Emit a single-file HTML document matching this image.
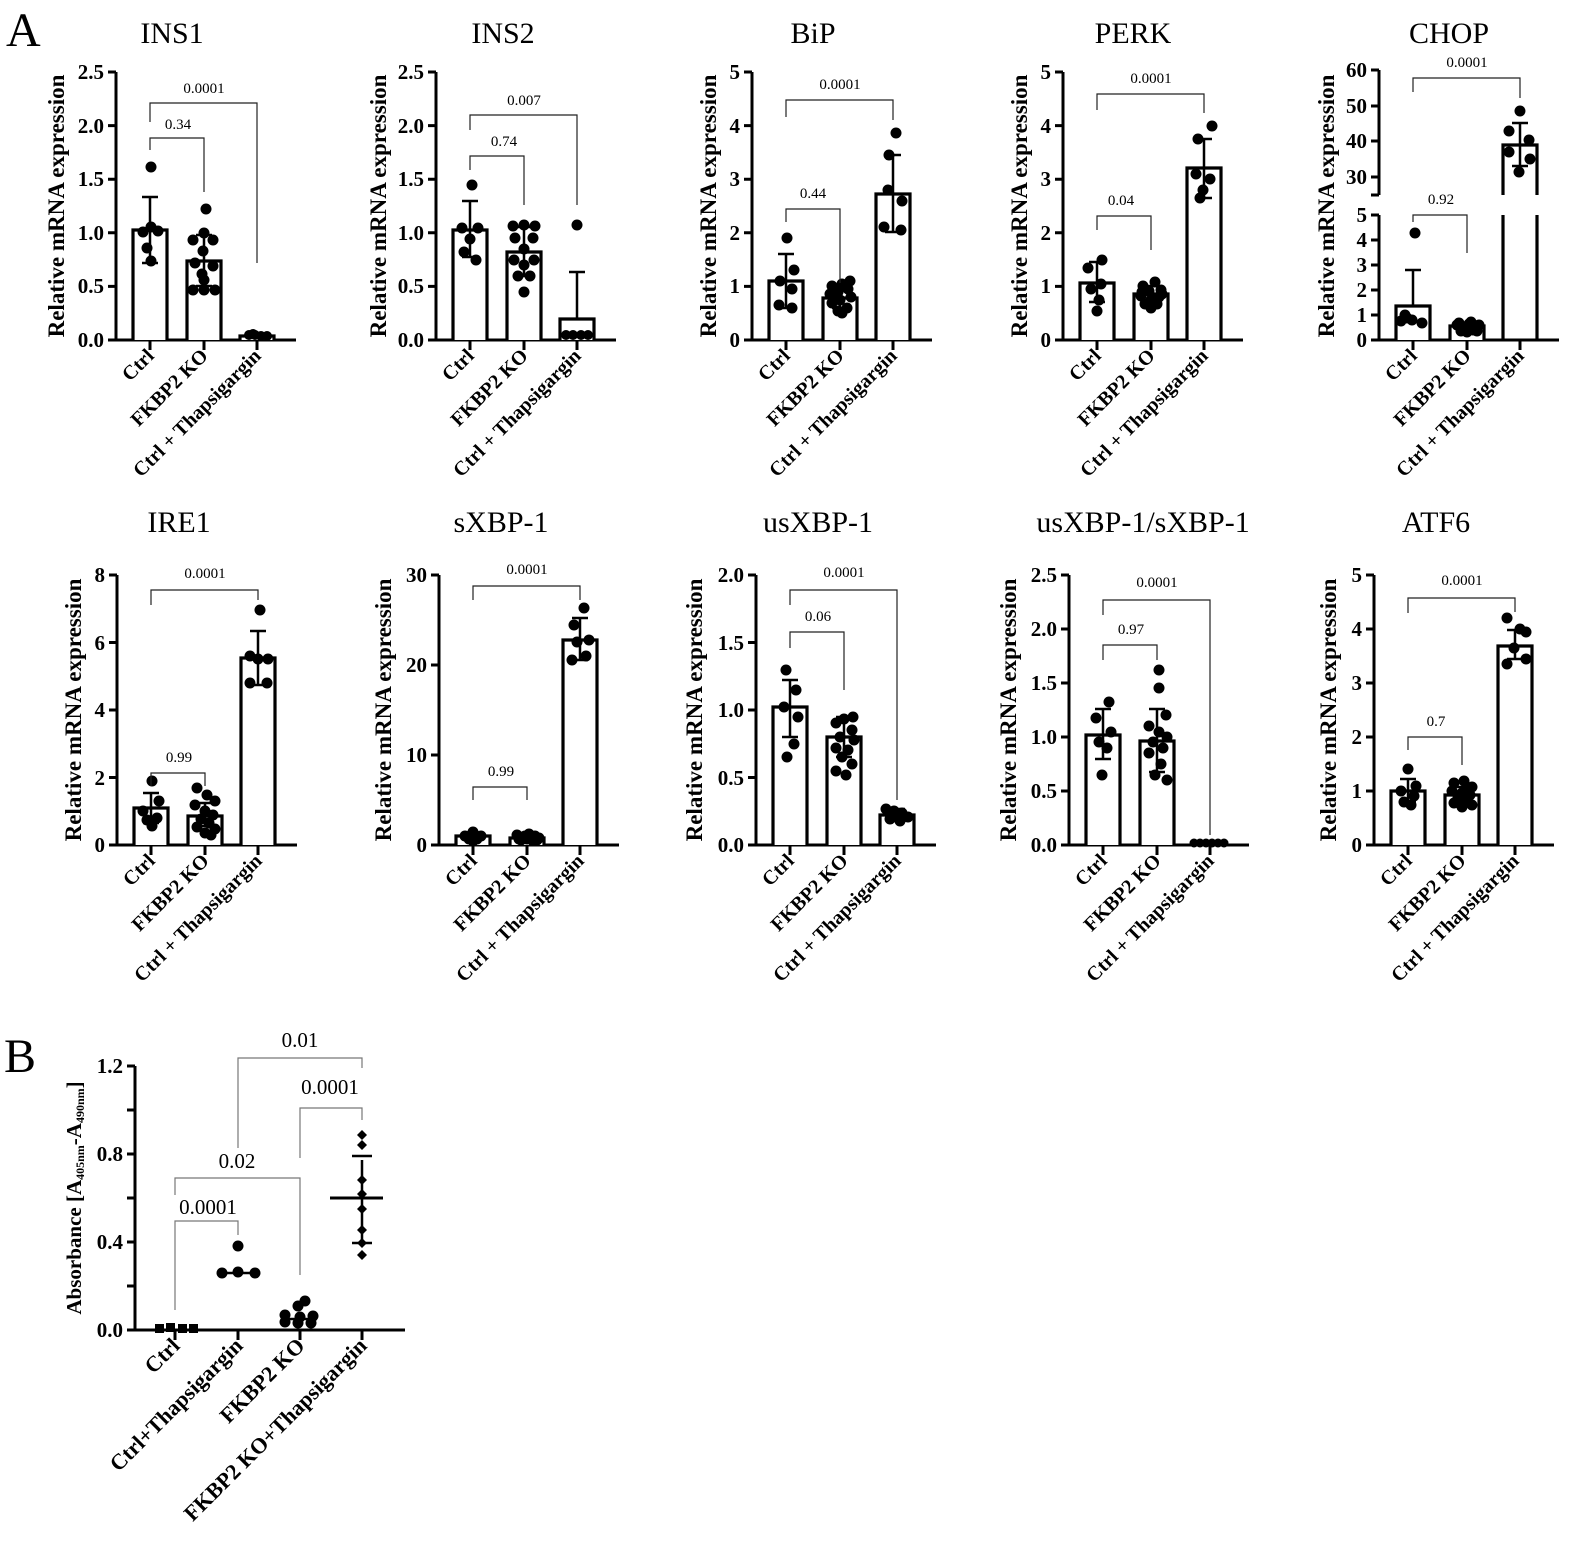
<!DOCTYPE html>
<html><head><meta charset="utf-8"><style>
body{margin:0;background:#fff}
svg{display:block;font-family:"Liberation Serif",serif}
.ax{stroke:#000;stroke-width:3;fill:none}
.bar{stroke:#000;stroke-width:3.2;fill:#fff}
.er{stroke:#000;stroke-width:2.5;fill:none}
.br{stroke:#222;stroke-width:1.2;fill:none}
.bg{stroke:#777;stroke-width:1.2;fill:none}
.tk{font-size:21px;font-weight:bold;text-anchor:end}
.xl{font-size:20px;font-weight:bold;text-anchor:end}
.yl{font-size:23px;font-weight:bold;text-anchor:middle}
.ti{font-size:30px;text-anchor:middle}
.p{font-size:15px;text-anchor:middle}
circle{fill:#000}
</style></head><body>
<svg width="1577" height="1553" viewBox="0 0 1577 1553" xmlns="http://www.w3.org/2000/svg">
<text x="6" y="46" font-size="48">A</text>
<text x="4" y="1072" font-size="48">B</text>

<!-- INS1 -->
<g transform="translate(116,340)">
<text class="ti" x="56" y="-297">INS1</text>
<text class="yl" transform="translate(-52,-134) rotate(-90)">Relative mRNA expression</text>
<path class="ax" d="M0,1.5V-268M-1.5,0H180M-8,0H0M-8,-53.6H0M-8,-107.2H0M-8,-160.8H0M-8,-214.4H0M-8,-268H0M34,0V10M88,0V10M141,0V10"/>
<text class="tk" x="-12" y="7">0.0</text><text class="tk" x="-12" y="-47">0.5</text><text class="tk" x="-12" y="-100">1.0</text><text class="tk" x="-12" y="-154">1.5</text><text class="tk" x="-12" y="-207">2.0</text><text class="tk" x="-12" y="-261">2.5</text>
<path class="bar" d="M17,0V-110H51V0M71,0V-79H105V0M124,0V-4H158V0"/>
<path class="er" d="M34,-77V-143M26,-143H42M26,-77H42M88,-54V-105M80,-105H96M80,-54H96"/>
<circle cx="35" cy="-173" r="5.5"/><circle cx="27" cy="-108" r="5.5"/><circle cx="42" cy="-109" r="5.5"/><circle cx="35" cy="-113" r="5.5"/><circle cx="31" cy="-92" r="5.5"/><circle cx="35" cy="-79" r="5.5"/>
<circle cx="90" cy="-131" r="5.5"/><circle cx="88" cy="-107" r="5.5"/><circle cx="77" cy="-100" r="5.5"/><circle cx="97" cy="-100" r="5.5"/><circle cx="87" cy="-89" r="5.5"/><circle cx="79" cy="-77" r="5.5"/><circle cx="97" cy="-74" r="5.5"/><circle cx="88" cy="-60" r="5.5"/><circle cx="77" cy="-50" r="5.5"/><circle cx="88" cy="-50" r="5.5"/><circle cx="99" cy="-50" r="5.5"/><circle cx="86" cy="-66" r="5.5"/>
<circle cx="133" cy="-5" r="5"/><circle cx="139" cy="-5" r="5"/><circle cx="145" cy="-4" r="5"/><circle cx="151" cy="-4" r="5"/><circle cx="137" cy="-6" r="5"/>
<path class="br" d="M34,-190V-202H88V-148M34,-218V-237H141V-77"/>
<text class="p" x="62" y="-211">0.34</text><text class="p" x="88" y="-247">0.0001</text>
<text class="xl" transform="translate(39,17) rotate(-45)">Ctrl</text><text class="xl" transform="translate(93,17) rotate(-45)">FKBP2 KO</text><text class="xl" transform="translate(146,17) rotate(-45)">Ctrl + Thapsigargin</text>
</g>

<!-- INS2 -->
<g transform="translate(436,340)">
<text class="ti" x="67" y="-297">INS2</text>
<text class="yl" transform="translate(-50,-134) rotate(-90)">Relative mRNA expression</text>
<path class="ax" d="M0,1.5V-268M-1.5,0H180M-8,0H0M-8,-53.6H0M-8,-107.2H0M-8,-160.8H0M-8,-214.4H0M-8,-268H0M34,0V10M88,0V10M141,0V10"/>
<text class="tk" x="-12" y="7">0.0</text><text class="tk" x="-12" y="-47">0.5</text><text class="tk" x="-12" y="-100">1.0</text><text class="tk" x="-12" y="-154">1.5</text><text class="tk" x="-12" y="-207">2.0</text><text class="tk" x="-12" y="-261">2.5</text>
<path class="bar" d="M17,0V-110H51V0M71,0V-88H105V0M124,0V-21H158V0"/>
<path class="er" d="M34,-83V-139M26,-139H42M26,-83H42M88,-64V-113M80,-113H96M80,-64H96M141,-21V-68M133,-68H149"/>
<circle cx="36" cy="-155" r="5.5"/><circle cx="26" cy="-112" r="5.5"/><circle cx="42" cy="-112" r="5.5"/><circle cx="34" cy="-101" r="5.5"/><circle cx="28" cy="-88" r="5.5"/><circle cx="40" cy="-80" r="5.5"/>
<circle cx="77" cy="-114" r="5.5"/><circle cx="88" cy="-115" r="5.5"/><circle cx="99" cy="-114" r="5.5"/><circle cx="79" cy="-102" r="5.5"/><circle cx="97" cy="-102" r="5.5"/><circle cx="88" cy="-91" r="5.5"/><circle cx="78" cy="-80" r="5.5"/><circle cx="98" cy="-80" r="5.5"/><circle cx="82" cy="-64" r="5.5"/><circle cx="94" cy="-64" r="5.5"/><circle cx="88" cy="-48" r="5.5"/><circle cx="88" cy="-75" r="5.5"/>
<circle cx="141" cy="-115" r="5.5"/><circle cx="130" cy="-5" r="5"/><circle cx="137" cy="-5" r="5"/><circle cx="145" cy="-5" r="5"/><circle cx="152" cy="-5" r="5"/>
<path class="br" d="M34,-170V-184H88V-135M34,-210V-225H141V-135"/>
<text class="p" x="68" y="-194">0.74</text><text class="p" x="88" y="-235">0.007</text>
<text class="xl" transform="translate(39,17) rotate(-45)">Ctrl</text><text class="xl" transform="translate(93,17) rotate(-45)">FKBP2 KO</text><text class="xl" transform="translate(146,17) rotate(-45)">Ctrl + Thapsigargin</text>
</g>

<!-- BiP -->
<g transform="translate(752,340)">
<text class="ti" x="61" y="-297">BiP</text>
<text class="yl" transform="translate(-36,-134) rotate(-90)">Relative mRNA expression</text>
<path class="ax" d="M0,1.5V-268M-1.5,0H180M-8,0H0M-8,-53.6H0M-8,-107.2H0M-8,-160.8H0M-8,-214.4H0M-8,-268H0M34,0V10M88,0V10M141,0V10"/>
<text class="tk" x="-12" y="7">0</text><text class="tk" x="-12" y="-47">1</text><text class="tk" x="-12" y="-100">2</text><text class="tk" x="-12" y="-154">3</text><text class="tk" x="-12" y="-207">4</text><text class="tk" x="-12" y="-261">5</text>
<path class="bar" d="M17,0V-59H51V0M71,0V-42H105V0M124,0V-146H158V0"/>
<path class="er" d="M34,-32V-86M26,-86H42M26,-32H42M88,-32V-51M80,-51H96M80,-32H96M141,-108V-185M133,-185H149M133,-108H149"/>
<circle cx="35" cy="-102" r="5.5"/><circle cx="42" cy="-70" r="5.5"/><circle cx="28" cy="-59" r="5.5"/><circle cx="40" cy="-51" r="5.5"/><circle cx="27" cy="-35" r="5.5"/><circle cx="40" cy="-32" r="5.5"/>
<circle cx="98" cy="-59" r="5.5"/><circle cx="90" cy="-56" r="5.5"/><circle cx="80" cy="-54" r="5.5"/><circle cx="96" cy="-51" r="5.5"/><circle cx="86" cy="-48" r="5.5"/><circle cx="78" cy="-46" r="5.5"/><circle cx="99" cy="-43" r="5.5"/><circle cx="88" cy="-40" r="5.5"/><circle cx="80" cy="-37" r="5.5"/><circle cx="95" cy="-32" r="5.5"/><circle cx="86" cy="-29" r="5.5"/><circle cx="90" cy="-27" r="5.5"/>
<circle cx="144" cy="-207" r="5.5"/><circle cx="137" cy="-185" r="5.5"/><circle cx="136" cy="-150" r="5.5"/><circle cx="150" cy="-139" r="5.5"/><circle cx="132" cy="-113" r="5.5"/><circle cx="149" cy="-110" r="5.5"/>
<path class="br" d="M34,-118V-131H88V-57M34,-223V-240H141V-220"/>
<text class="p" x="61" y="-142">0.44</text><text class="p" x="88" y="-251">0.0001</text>
<text class="xl" transform="translate(39,17) rotate(-45)">Ctrl</text><text class="xl" transform="translate(93,17) rotate(-45)">FKBP2 KO</text><text class="xl" transform="translate(146,17) rotate(-45)">Ctrl + Thapsigargin</text>
</g>

<!-- PERK -->
<g transform="translate(1063,340)">
<text class="ti" x="70" y="-297">PERK</text>
<text class="yl" transform="translate(-36,-134) rotate(-90)">Relative mRNA expression</text>
<path class="ax" d="M0,1.5V-268M-1.5,0H180M-8,0H0M-8,-53.6H0M-8,-107.2H0M-8,-160.8H0M-8,-214.4H0M-8,-268H0M34,0V10M88,0V10M141,0V10"/>
<text class="tk" x="-12" y="7">0</text><text class="tk" x="-12" y="-47">1</text><text class="tk" x="-12" y="-100">2</text><text class="tk" x="-12" y="-154">3</text><text class="tk" x="-12" y="-207">4</text><text class="tk" x="-12" y="-261">5</text>
<path class="bar" d="M17,0V-57H51V0M71,0V-46H105V0M124,0V-172H158V0"/>
<path class="er" d="M34,-38V-78M26,-78H42M26,-38H42M88,-38V-54M80,-54H96M80,-38H96M141,-142V-201M133,-201H149M133,-142H149"/>
<circle cx="39" cy="-80" r="5.5"/><circle cx="25" cy="-72" r="5.5"/><circle cx="38" cy="-56" r="5.5"/><circle cx="28" cy="-51" r="5.5"/><circle cx="36" cy="-40" r="5.5"/><circle cx="34" cy="-29" r="5.5"/>
<circle cx="80" cy="-54" r="5.5"/><circle cx="92" cy="-58" r="5.5"/><circle cx="98" cy="-50" r="5.5"/><circle cx="86" cy="-49" r="5.5"/><circle cx="78" cy="-44" r="5.5"/><circle cx="96" cy="-43" r="5.5"/><circle cx="88" cy="-40" r="5.5"/><circle cx="82" cy="-36" r="5.5"/><circle cx="94" cy="-36" r="5.5"/><circle cx="88" cy="-32" r="5.5"/><circle cx="79" cy="-48" r="5.5"/><circle cx="99" cy="-46" r="5.5"/>
<circle cx="149" cy="-214" r="5.5"/><circle cx="135" cy="-201" r="5.5"/><circle cx="133" cy="-166" r="5.5"/><circle cx="147" cy="-161" r="5.5"/><circle cx="140" cy="-150" r="5.5"/><circle cx="137" cy="-142" r="5.5"/>
<path class="br" d="M34,-110V-124H88V-90M34,-230V-246H141V-227"/>
<text class="p" x="58" y="-135">0.04</text><text class="p" x="88" y="-257">0.0001</text>
<text class="xl" transform="translate(39,17) rotate(-45)">Ctrl</text><text class="xl" transform="translate(93,17) rotate(-45)">FKBP2 KO</text><text class="xl" transform="translate(146,17) rotate(-45)">Ctrl + Thapsigargin</text>
</g>

<!-- CHOP -->
<g transform="translate(1379,340)">
<text class="ti" x="70" y="-297">CHOP</text>
<text class="yl" transform="translate(-45,-134) rotate(-90)">Relative mRNA expression</text>
<path class="ax" d="M0,1.5V-125M0,-145V-270M-1.5,0H180M-8,0H0M-8,-25H0M-8,-50H0M-8,-75H0M-8,-100H0M-8,-125H0M-8,-145H0M-8,-163H0M-8,-199H0M-8,-234H0M-8,-270H0M34,0V10M88,0V10M141,0V10"/>
<text class="tk" x="-12" y="7">0</text><text class="tk" x="-12" y="-18">1</text><text class="tk" x="-12" y="-43">2</text><text class="tk" x="-12" y="-68">3</text><text class="tk" x="-12" y="-93">4</text><text class="tk" x="-12" y="-118">5</text><text class="tk" x="-12" y="-156">30</text><text class="tk" x="-12" y="-192">40</text><text class="tk" x="-12" y="-227">50</text><text class="tk" x="-12" y="-263">60</text>
<path class="bar" d="M17,0V-34H51V0M71,0V-14H105V0M124,0V-125M158,0V-125M124,-145V-195H158V-145"/>
<path class="er" d="M34,-34V-70M26,-70H42M141,-174V-217M133,-217H149M133,-174H149"/>
<circle cx="36" cy="-107" r="5.5"/><circle cx="26" cy="-25" r="5.5"/><circle cx="22" cy="-19" r="5.5"/><circle cx="33" cy="-20" r="5.5"/><circle cx="43" cy="-17" r="5.5"/><circle cx="28" cy="-22" r="5.5"/>
<circle cx="78" cy="-15" r="5.5"/><circle cx="84" cy="-12" r="5.5"/><circle cx="90" cy="-16" r="5.5"/><circle cx="96" cy="-13" r="5.5"/><circle cx="100" cy="-15" r="5.5"/><circle cx="82" cy="-9" r="5.5"/><circle cx="88" cy="-8" r="5.5"/><circle cx="94" cy="-10" r="5.5"/><circle cx="80" cy="-17" r="5.5"/><circle cx="92" cy="-18" r="5.5"/><circle cx="98" cy="-9" r="5.5"/>
<circle cx="141" cy="-229" r="5.5"/><circle cx="130" cy="-209" r="5.5"/><circle cx="150" cy="-200" r="5.5"/><circle cx="130" cy="-188" r="5.5"/><circle cx="151" cy="-181" r="5.5"/><circle cx="140" cy="-168" r="5.5"/>
<path class="br" d="M34,-118V-125H88V-87M34,-248V-262H141V-242"/>
<text class="p" x="62" y="-136">0.92</text><text class="p" x="88" y="-273">0.0001</text>
<text class="xl" transform="translate(39,17) rotate(-45)">Ctrl</text><text class="xl" transform="translate(93,17) rotate(-45)">FKBP2 KO</text><text class="xl" transform="translate(146,17) rotate(-45)">Ctrl + Thapsigargin</text>
</g>

<!-- IRE1 -->
<g transform="translate(117,845)">
<text class="ti" x="62" y="-313">IRE1</text>
<text class="yl" transform="translate(-36,-135) rotate(-90)">Relative mRNA expression</text>
<path class="ax" d="M0,1.5V-270M-1.5,0H180M-8,0H0M-8,-67.5H0M-8,-135H0M-8,-202.5H0M-8,-270H0M34,0V10M88,0V10M141,0V10"/>
<text class="tk" x="-12" y="7">0</text><text class="tk" x="-12" y="-60">2</text><text class="tk" x="-12" y="-128">4</text><text class="tk" x="-12" y="-195">6</text><text class="tk" x="-12" y="-263">8</text>
<path class="bar" d="M17,0V-37H51V0M71,0V-29H105V0M124,0V-187H158V0"/>
<path class="er" d="M34,-22V-52M26,-52H42M26,-22H42M88,-19V-42M80,-42H96M80,-19H96M141,-160V-214M133,-214H149M133,-160H149"/>
<circle cx="35" cy="-64" r="5.5"/><circle cx="42" cy="-44" r="5.5"/><circle cx="26" cy="-34" r="5.5"/><circle cx="40" cy="-27" r="5.5"/><circle cx="30" cy="-25" r="5.5"/><circle cx="35" cy="-19" r="5.5"/>
<circle cx="80" cy="-57" r="5.5"/><circle cx="90" cy="-50" r="5.5"/><circle cx="98" cy="-44" r="5.5"/><circle cx="78" cy="-40" r="5.5"/><circle cx="88" cy="-34" r="5.5"/><circle cx="96" cy="-30" r="5.5"/><circle cx="84" cy="-26" r="5.5"/><circle cx="92" cy="-22" r="5.5"/><circle cx="80" cy="-18" r="5.5"/><circle cx="98" cy="-16" r="5.5"/><circle cx="88" cy="-12" r="5.5"/><circle cx="94" cy="-10" r="5.5"/>
<circle cx="143" cy="-235" r="5.5"/><circle cx="133" cy="-189" r="5.5"/><circle cx="151" cy="-186" r="5.5"/><circle cx="141" cy="-186" r="5.5"/><circle cx="133" cy="-162" r="5.5"/><circle cx="150" cy="-162" r="5.5"/>
<path class="br" d="M34,-59V-72H88V-59M34,-240V-255H141V-245"/>
<text class="p" x="62" y="-83">0.99</text><text class="p" x="88" y="-267">0.0001</text>
<text class="xl" transform="translate(39,17) rotate(-45)">Ctrl</text><text class="xl" transform="translate(93,17) rotate(-45)">FKBP2 KO</text><text class="xl" transform="translate(146,17) rotate(-45)">Ctrl + Thapsigargin</text>
</g>

<!-- sXBP-1 -->
<g transform="translate(439,845)">
<text class="ti" x="62" y="-313">sXBP-1</text>
<text class="yl" transform="translate(-48,-135) rotate(-90)">Relative mRNA expression</text>
<path class="ax" d="M0,1.5V-270M-1.5,0H180M-8,0H0M-8,-90H0M-8,-180H0M-8,-270H0M34,0V10M88,0V10M141,0V10"/>
<text class="tk" x="-12" y="7">0</text><text class="tk" x="-12" y="-83">10</text><text class="tk" x="-12" y="-173">20</text><text class="tk" x="-12" y="-263">30</text>
<path class="bar" d="M17,0V-9H51V0M71,0V-7H105V0M124,0V-205H158V0"/>
<path class="er" d="M34,-5V-12M26,-12H42M141,-185V-227M133,-227H149M133,-185H149"/>
<circle cx="34" cy="-13" r="5.5"/><circle cx="26" cy="-9" r="5.5"/><circle cx="42" cy="-9" r="5.5"/><circle cx="30" cy="-6" r="5.5"/><circle cx="38" cy="-6" r="5.5"/><circle cx="34" cy="-4" r="5.5"/>
<circle cx="78" cy="-10" r="5.5"/><circle cx="84" cy="-8" r="5.5"/><circle cx="90" cy="-11" r="5.5"/><circle cx="96" cy="-9" r="5.5"/><circle cx="100" cy="-7" r="5.5"/><circle cx="82" cy="-5" r="5.5"/><circle cx="88" cy="-6" r="5.5"/><circle cx="94" cy="-4" r="5.5"/><circle cx="80" cy="-6" r="5.5"/><circle cx="98" cy="-5" r="5.5"/><circle cx="86" cy="-9" r="5.5"/><circle cx="92" cy="-7" r="5.5"/>
<circle cx="145" cy="-237" r="5.5"/><circle cx="135" cy="-220" r="5.5"/><circle cx="150" cy="-205" r="5.5"/><circle cx="138" cy="-203" r="5.5"/><circle cx="147" cy="-189" r="5.5"/><circle cx="133" cy="-185" r="5.5"/>
<path class="br" d="M34,-45V-58H88V-45M34,-245V-259H141V-245"/>
<text class="p" x="62" y="-69">0.99</text><text class="p" x="88" y="-271">0.0001</text>
<text class="xl" transform="translate(39,17) rotate(-45)">Ctrl</text><text class="xl" transform="translate(93,17) rotate(-45)">FKBP2 KO</text><text class="xl" transform="translate(146,17) rotate(-45)">Ctrl + Thapsigargin</text>
</g>

<!-- usXBP-1 -->
<g transform="translate(756,845)">
<text class="ti" x="62" y="-313">usXBP-1</text>
<text class="yl" transform="translate(-54,-135) rotate(-90)">Relative mRNA expression</text>
<path class="ax" d="M0,1.5V-270M-1.5,0H180M-8,0H0M-8,-67.5H0M-8,-135H0M-8,-202.5H0M-8,-270H0M34,0V10M88,0V10M141,0V10"/>
<text class="tk" x="-12" y="7">0.0</text><text class="tk" x="-12" y="-60">0.5</text><text class="tk" x="-12" y="-128">1.0</text><text class="tk" x="-12" y="-195">1.5</text><text class="tk" x="-12" y="-263">2.0</text>
<path class="bar" d="M17,0V-138H51V0M71,0V-108H105V0M124,0V-30H158V0"/>
<path class="er" d="M34,-108V-165M26,-165H42M26,-108H42M88,-88V-128M80,-128H96M80,-88H96M141,-24V-36M133,-36H149M133,-24H149"/>
<circle cx="30" cy="-175" r="5.5"/><circle cx="40" cy="-155" r="5.5"/><circle cx="28" cy="-138" r="5.5"/><circle cx="42" cy="-128" r="5.5"/><circle cx="38" cy="-101" r="5.5"/><circle cx="31" cy="-88" r="5.5"/>
<circle cx="97" cy="-128" r="5.5"/><circle cx="88" cy="-126" r="5.5"/><circle cx="80" cy="-122" r="5.5"/><circle cx="96" cy="-115" r="5.5"/><circle cx="84" cy="-108" r="5.5"/><circle cx="98" cy="-105" r="5.5"/><circle cx="80" cy="-97" r="5.5"/><circle cx="92" cy="-95" r="5.5"/><circle cx="86" cy="-88" r="5.5"/><circle cx="96" cy="-81" r="5.5"/><circle cx="80" cy="-74" r="5.5"/><circle cx="90" cy="-70" r="5.5"/>
<circle cx="130" cy="-36" r="5.5"/><circle cx="138" cy="-34" r="5.5"/><circle cx="146" cy="-32" r="5.5"/><circle cx="152" cy="-28" r="5.5"/><circle cx="134" cy="-26" r="5.5"/><circle cx="144" cy="-24" r="5.5"/><circle cx="140" cy="-30" r="5.5"/>
<path class="br" d="M34,-197V-213H88V-155M34,-240V-255H141V-45"/>
<text class="p" x="62" y="-224">0.06</text><text class="p" x="88" y="-268">0.0001</text>
<text class="xl" transform="translate(39,17) rotate(-45)">Ctrl</text><text class="xl" transform="translate(93,17) rotate(-45)">FKBP2 KO</text><text class="xl" transform="translate(146,17) rotate(-45)">Ctrl + Thapsigargin</text>
</g>

<!-- usXBP-1/sXBP-1 -->
<g transform="translate(1069,845)">
<text class="ti" x="74" y="-313">usXBP-1/sXBP-1</text>
<text class="yl" transform="translate(-53,-135) rotate(-90)">Relative mRNA expression</text>
<path class="ax" d="M0,1.5V-270M-1.5,0H180M-8,0H0M-8,-54H0M-8,-108H0M-8,-162H0M-8,-216H0M-8,-270H0M34,0V10M88,0V10M141,0V10"/>
<text class="tk" x="-12" y="7">0.0</text><text class="tk" x="-12" y="-47">0.5</text><text class="tk" x="-12" y="-101">1.0</text><text class="tk" x="-12" y="-155">1.5</text><text class="tk" x="-12" y="-209">2.0</text><text class="tk" x="-12" y="-263">2.5</text>
<path class="bar" d="M17,0V-110H51V0M71,0V-104H105V0"/>
<path class="er" d="M34,-86V-136M26,-136H42M26,-86H42M88,-73V-136M80,-136H96M80,-73H96"/>
<circle cx="40" cy="-143" r="5.5"/><circle cx="27" cy="-127" r="5.5"/><circle cx="42" cy="-113" r="5.5"/><circle cx="30" cy="-103" r="5.5"/><circle cx="38" cy="-97" r="5.5"/><circle cx="33" cy="-70" r="5.5"/>
<circle cx="90" cy="-175" r="5.5"/><circle cx="90" cy="-157" r="5.5"/><circle cx="97" cy="-130" r="5.5"/><circle cx="80" cy="-119" r="5.5"/><circle cx="90" cy="-113" r="5.5"/><circle cx="98" cy="-108" r="5.5"/><circle cx="84" cy="-103" r="5.5"/><circle cx="94" cy="-97" r="5.5"/><circle cx="80" cy="-92" r="5.5"/><circle cx="92" cy="-81" r="5.5"/><circle cx="86" cy="-70" r="5.5"/><circle cx="98" cy="-65" r="5.5"/>
<circle cx="125" cy="-2" r="4.5"/><circle cx="131" cy="-2" r="4.5"/><circle cx="137" cy="-2" r="4.5"/><circle cx="143" cy="-2" r="4.5"/><circle cx="149" cy="-2" r="4.5"/><circle cx="155" cy="-2" r="4.5"/>
<path class="br" d="M34,-185V-200H88V-185M34,-230V-245H141V-10"/>
<text class="p" x="62" y="-211">0.97</text><text class="p" x="88" y="-258">0.0001</text>
<text class="xl" transform="translate(39,17) rotate(-45)">Ctrl</text><text class="xl" transform="translate(93,17) rotate(-45)">FKBP2 KO</text><text class="xl" transform="translate(146,17) rotate(-45)">Ctrl + Thapsigargin</text>
</g>

<!-- ATF6 -->
<g transform="translate(1374,845)">
<text class="ti" x="62" y="-313">ATF6</text>
<text class="yl" transform="translate(-38,-135) rotate(-90)">Relative mRNA expression</text>
<path class="ax" d="M0,1.5V-270M-1.5,0H180M-8,0H0M-8,-54H0M-8,-108H0M-8,-162H0M-8,-216H0M-8,-270H0M34,0V10M88,0V10M141,0V10"/>
<text class="tk" x="-12" y="7">0</text><text class="tk" x="-12" y="-47">1</text><text class="tk" x="-12" y="-101">2</text><text class="tk" x="-12" y="-155">3</text><text class="tk" x="-12" y="-209">4</text><text class="tk" x="-12" y="-263">5</text>
<path class="bar" d="M17,0V-54H51V0M71,0V-50H105V0M124,0V-199H158V0"/>
<path class="er" d="M34,-43V-66M26,-66H42M26,-43H42M88,-43V-58M80,-58H96M80,-43H96M141,-186V-215M133,-215H149M133,-186H149"/>
<circle cx="34" cy="-76" r="5.5"/><circle cx="42" cy="-59" r="5.5"/><circle cx="27" cy="-54" r="5.5"/><circle cx="40" cy="-49" r="5.5"/><circle cx="30" cy="-43" r="5.5"/><circle cx="37" cy="-40" r="5.5"/>
<circle cx="80" cy="-62" r="5.5"/><circle cx="90" cy="-64" r="5.5"/><circle cx="98" cy="-58" r="5.5"/><circle cx="78" cy="-54" r="5.5"/><circle cx="88" cy="-52" r="5.5"/><circle cx="96" cy="-50" r="5.5"/><circle cx="84" cy="-47" r="5.5"/><circle cx="92" cy="-45" r="5.5"/><circle cx="80" cy="-42" r="5.5"/><circle cx="98" cy="-40" r="5.5"/><circle cx="88" cy="-38" r="5.5"/><circle cx="94" cy="-55" r="5.5"/>
<circle cx="133" cy="-227" r="5.5"/><circle cx="146" cy="-216" r="5.5"/><circle cx="152" cy="-213" r="5.5"/><circle cx="140" cy="-197" r="5.5"/><circle cx="152" cy="-186" r="5.5"/><circle cx="133" cy="-181" r="5.5"/>
<path class="br" d="M34,-95V-108H88V-80M34,-232V-247H141V-233"/>
<text class="p" x="62" y="-119">0.7</text><text class="p" x="88" y="-260">0.0001</text>
<text class="xl" transform="translate(39,17) rotate(-45)">Ctrl</text><text class="xl" transform="translate(93,17) rotate(-45)">FKBP2 KO</text><text class="xl" transform="translate(146,17) rotate(-45)">Ctrl + Thapsigargin</text>
</g>

<!-- B -->
<g transform="translate(135,1330)">
<text class="yl" style="font-size:21px" transform="translate(-54,-132) rotate(-90)">Absorbance [A<tspan font-size="12" dy="3">405nm</tspan><tspan dy="-3">-A</tspan><tspan font-size="12" dy="3">490nm</tspan><tspan dy="-3">]</tspan></text>
<path class="ax" d="M0,1.5V-264M-1.5,0H270M-8,0H0M-8,-44H0M-8,-88H0M-8,-132H0M-8,-176H0M-8,-220H0M-8,-264H0M40,0V10M103,0V10M165,0V10M227,0V10"/>
<text class="tk" x="-12" y="7">0.0</text><text class="tk" x="-12" y="-81">0.4</text><text class="tk" x="-12" y="-169">0.8</text><text class="tk" x="-12" y="-257">1.2</text>
<rect x="20" y="-6" width="9" height="9"/><rect x="31" y="-7" width="9" height="9"/><rect x="43" y="-6" width="9" height="9"/><rect x="54" y="-6" width="9" height="9"/>
<path class="er" d="M87,-57H120"/>
<circle cx="103" cy="-84" r="5.5"/><circle cx="87" cy="-57" r="5.5"/><circle cx="103" cy="-58" r="5.5"/><circle cx="120" cy="-57" r="5.5"/>
<path class="er" d="M148,-11H182"/>
<circle cx="170" cy="-29" r="5.5"/><circle cx="163" cy="-24" r="5.5"/><circle cx="150" cy="-15" r="5.5"/><circle cx="165" cy="-13" r="5.5"/><circle cx="178" cy="-14" r="5.5"/><circle cx="150" cy="-8" r="5.5"/><circle cx="163" cy="-7" r="5.5"/><circle cx="176" cy="-7" r="5.5"/>
<path class="er" d="M227,-170V-87M217,-174H237M217,-87H237"/>
<path d="M195,-132H248" stroke="#000" stroke-width="3"/>
<g fill="#000"><path d="M227,-200l5,5l-5,5l-5,-5z"/><path d="M227,-190l5,5l-5,5l-5,-5z"/><path d="M227,-155l5,5l-5,5l-5,-5z"/><path d="M227,-141l5,5l-5,5l-5,-5z"/><path d="M227,-126l5,5l-5,5l-5,-5z"/><path d="M227,-105l5,5l-5,5l-5,-5z"/><path d="M227,-92l5,5l-5,5l-5,-5z"/><path d="M227,-80l5,5l-5,5l-5,-5z"/></g>
<path class="bg" d="M40,-20V-109H103V-95M40,-135V-152H165V-55M165,-172V-222H227V-210M103,-182V-272H227V-262"/>
</g>
<g font-size="21" text-anchor="middle">
<text x="208" y="1214">0.0001</text><text x="237" y="1168">0.02</text><text x="330" y="1094">0.0001</text><text x="300" y="1047">0.01</text>
</g>
<text class="xl" style="font-size:22px" transform="translate(181,1347) rotate(-45)">Ctrl</text>
<text class="xl" style="font-size:22px" transform="translate(244,1347) rotate(-45)">Ctrl+Thapsigargin</text>
<text class="xl" style="font-size:22px" transform="translate(306,1347) rotate(-45)">FKBP2 KO</text>
<text class="xl" style="font-size:22px" transform="translate(368,1347) rotate(-45)">FKBP2 KO+Thapsigargin</text>
</svg>
</body></html>
